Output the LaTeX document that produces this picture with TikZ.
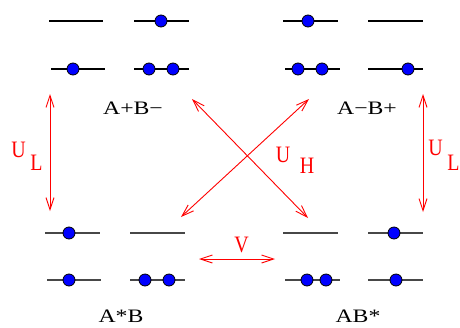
\documentclass[tikz,border=0pt]{standalone}
\usepackage{fontspec}
\setmainfont{Liberation Serif}
\usetikzlibrary{arrows.meta}
\newcommand{\bl}[1]{\scalebox{1.25}[1]{\fontsize{19}{22}\selectfont #1}}
\newcommand{\rl}[1]{\scalebox{0.95}[1.12]{\fontsize{21}{24}\selectfont #1}}
\tikzset{
  lvl/.style={line width=1.3pt, black},
  lvlb/.style={line width=1.3pt, black!72},
  el/.style={circle, draw=black, line width=0.8pt, fill=blue, inner sep=0pt, minimum size=12pt},
  rarr/.style={red, line width=0.9pt, {Straight Barb[length=12pt,width=8pt]}-{Straight Barb[length=12pt,width=8pt]}},
  blab/.style={anchor=base, inner sep=0pt},
  rlab/.style={anchor=base, inner sep=0pt, red}
}
\begin{document}
\begin{tikzpicture}[x=1pt,y=-1pt]
\useasboundingbox (0,0) rectangle (460,327);
% ---- A+B- (top left)
\draw[lvl] (49,21) -- (103,21);
\draw[lvl] (134,21) -- (189,21);
\node[el] (e1) at (161,21) {};
\draw[lvl] (51,69) -- (105,69);
\node[el] (e2) at (73,69) {};
\draw[lvl] (134,69) -- (189,69);
\node[el] (e3) at (149,69) {};
\node[el] (e4) at (173,69) {};
\node[blab] (l1) at (133,114) {\bl{A+B−}};
% ---- A-B+ (top right)
\draw[lvl] (283,21) -- (338,21);
\node[el] (e5) at (308,21) {};
\draw[lvl] (368,21) -- (423,21);
\draw[lvl] (285,69) -- (340,69);
\node[el] (e6) at (298,69) {};
\node[el] (e7) at (322,69) {};
\draw[lvl] (368,69) -- (423,69);
\node[el] (e8) at (408,69) {};
\node[blab] (l2) at (367,114) {\bl{A−B+}};
% ---- A*B (bottom left)
\draw[lvlb] (45,233) -- (100,233);
\node[el] (e9) at (69,233) {};
\draw[lvlb] (130,233) -- (185,233);
\draw[lvlb] (47,280) -- (101,280);
\node[el] (e10) at (69,280) {};
\draw[lvlb] (130,280) -- (185,280);
\node[el] (e11) at (145,280) {};
\node[el] (e12) at (169,280) {};
\node[blab] (l3) at (121,322) {\bl{A*B}};
% ---- AB* (bottom right)
\draw[lvlb] (283,233) -- (338,233);
\draw[lvlb] (368,233) -- (423,233);
\node[el] (e13) at (394,233) {};
\draw[lvlb] (285,280) -- (340,280);
\node[el] (e14) at (307,280) {};
\node[el] (e15) at (326,280) {};
\draw[lvlb] (368,280) -- (423,280);
\node[el] (e16) at (396,280) {};
\node[blab] (l4) at (358,322) {\bl{AB*}};
% ---- arrows
\coordinate (ulA) at (50,94);
\coordinate (ulB) at (50,211);
\coordinate (urA) at (423,94);
\coordinate (urB) at (423,212);
\coordinate (x1a) at (192,99);
\coordinate (x1b) at (308,218);
\coordinate (x2a) at (309,99);
\coordinate (x2b) at (181,217);
\coordinate (va) at (199,259);
\coordinate (vb) at (275,259);
\draw[rarr] (ulA) -- (ulB);
\draw[rarr] (urA) -- (urB);
\draw[rarr] (x1a) -- (x1b);
\draw[rarr] (x2a) -- (x2b);
\draw[rarr] (va) -- (vb);
% ---- red labels
\node[rlab] (u1) at (18.5,157) {\rl{U}};
\node[rlab] (s1) at (36.5,170) {\rl{L}};
\node[rlab] (u2) at (435.5,155) {\rl{U}};
\node[rlab] (s2) at (453.5,170) {\rl{L}};
\node[rlab] (u3) at (283,162) {\rl{U}};
\node[rlab] (s3) at (307,173) {\rl{H}};
\node[rlab] (v) at (241.5,252) {\rl{V}};
\end{tikzpicture}
\end{document}
